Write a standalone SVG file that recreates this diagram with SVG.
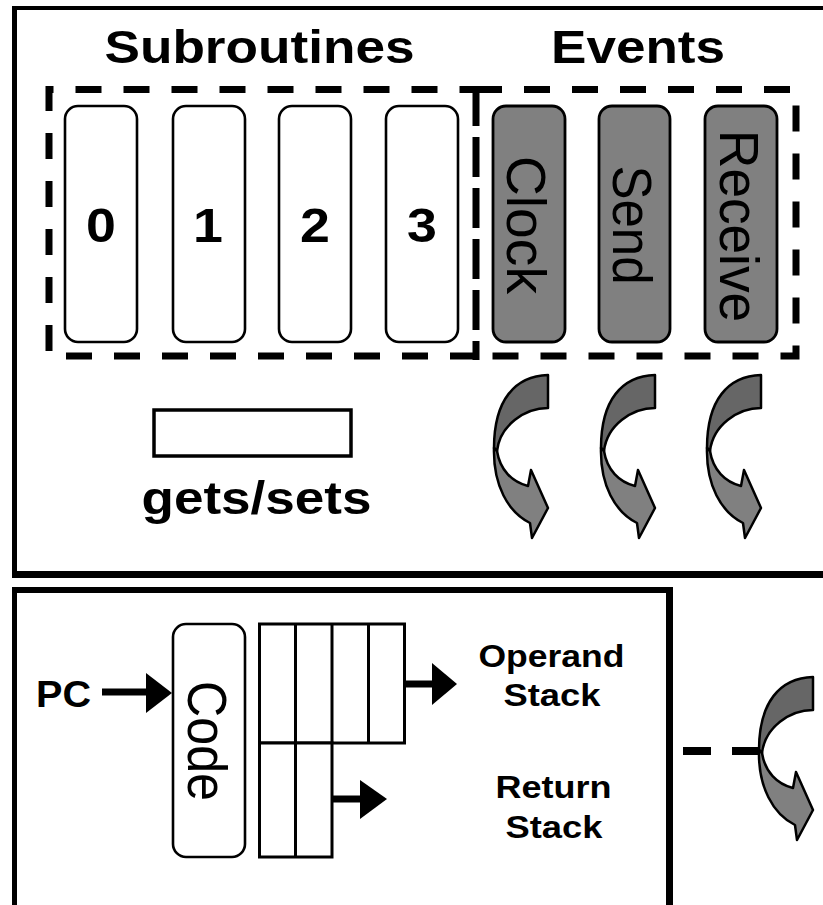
<svg xmlns="http://www.w3.org/2000/svg" width="823" height="905" viewBox="0 0 823 905">
  <style>
    .t { font-family: "Liberation Sans", Arial, sans-serif; fill: #000; }
    .b { font-weight: bold; }
    .slot { fill: #fff; stroke: #000; stroke-width: 2.6; }
    .evt { fill: #808080; stroke: #000; stroke-width: 2.8; }
    .dash { fill: none; stroke: #000; stroke-width: 7; stroke-dasharray: 26 22; }
    .frame { fill: none; stroke: #000; }
    .grid { fill: #fff; stroke: #000; stroke-width: 3; }
    .wire { stroke: #000; stroke-width: 7; fill: none; }
    .head { fill: #000; }
    .cback { fill: #666666; stroke: #000; stroke-width: 2.5; stroke-linejoin: round; }
    .cfront { fill: #808080; stroke: #000; stroke-width: 2.5; stroke-linejoin: round; }
  </style>
  <defs>
    <!-- twisted curved arrow: dark back half on top, light front half ending in a downward head -->
    <g id="curl">
      <path class="cback" d="M56,0 L56,33 C33,33 8,50 5,76 L2,73 C2,25 23,1 56,0 Z"/>
      <path class="cfront" d="M2,73 C1,110 16,137 38,148 L40,163 L56,133 L39,95 L36,111 C20,107 8,95 5,76 Z"/>
    </g>
  </defs>

  <rect width="823" height="905" fill="#fff"/>

  <!-- upper panel frame (open on the right) -->
  <g id="panel-top">
    <line class="frame" x1="12" y1="8" x2="823" y2="8" stroke-width="4"/>
    <line class="frame" x1="14.5" y1="6" x2="14.5" y2="578" stroke-width="5"/>
    <line class="frame" x1="12" y1="574.5" x2="823" y2="574.5" stroke-width="7"/>
  </g>

  <!-- lower panel frame (open at the bottom) -->
  <g id="panel-bottom">
    <line class="frame" x1="12" y1="590" x2="673" y2="590" stroke-width="6"/>
    <line class="frame" x1="14.5" y1="587" x2="14.5" y2="905" stroke-width="5"/>
    <line class="frame" x1="669.5" y1="587" x2="669.5" y2="905" stroke-width="7"/>
  </g>

  <g id="title-subroutines">
    <text class="t b" x="259.5" y="63" font-size="47" text-anchor="middle" textLength="310" lengthAdjust="spacingAndGlyphs">Subroutines</text>
  </g>
  <g id="title-events">
    <text class="t b" x="638" y="63" font-size="47" text-anchor="middle" textLength="174" lengthAdjust="spacingAndGlyphs">Events</text>
  </g>

  <!-- dashed groupings; the shared edge is drawn once with short gaps -->
  <g id="group-subroutines">
    <path class="dash" d="M476,356 H49 V89.5 H476"/>
  </g>
  <g id="group-events">
    <path class="dash" d="M476,89.5 H796 V356 H476"/>
    <line x1="476" y1="86" x2="476" y2="360" stroke="#000" stroke-width="7" stroke-dasharray="40 11"/>
  </g>

  <g id="sub-0">
    <rect class="slot" x="65" y="106" width="72" height="236" rx="13"/>
    <text class="t b" font-size="48" text-anchor="middle" transform="translate(101,242) scale(1.12,1)">0</text>
  </g>
  <g id="sub-1">
    <rect class="slot" x="173" y="106" width="72" height="236" rx="13"/>
    <text class="t b" font-size="48" text-anchor="middle" transform="translate(208,242) scale(1.12,1)">1</text>
  </g>
  <g id="sub-2">
    <rect class="slot" x="279" y="106" width="72" height="236" rx="13"/>
    <text class="t b" font-size="48" text-anchor="middle" transform="translate(315,242) scale(1.12,1)">2</text>
  </g>
  <g id="sub-3">
    <rect class="slot" x="386" y="106" width="72" height="236" rx="13"/>
    <text class="t b" font-size="48" text-anchor="middle" transform="translate(422,242) scale(1.12,1)">3</text>
  </g>

  <g id="evt-clock">
    <rect class="evt" x="493" y="106" width="72" height="236" rx="13"/>
    <text class="t" font-size="50" text-anchor="middle" textLength="138" lengthAdjust="spacingAndGlyphs" transform="translate(507,225) scale(1.1,1) rotate(90)">Clock</text>
  </g>
  <g id="evt-send">
    <rect class="evt" x="599" y="106" width="71" height="236" rx="13"/>
    <text class="t" font-size="50" text-anchor="middle" textLength="119" lengthAdjust="spacingAndGlyphs" transform="translate(613,225) scale(1.1,1) rotate(90)">Send</text>
  </g>
  <g id="evt-receive">
    <rect class="evt" x="705" y="106" width="72" height="236" rx="13"/>
    <text class="t" font-size="50" text-anchor="middle" textLength="192" lengthAdjust="spacingAndGlyphs" transform="translate(720,226) scale(1.1,1) rotate(90)">Receive</text>
  </g>

  <g id="gets-sets">
    <rect x="154" y="410" width="197" height="46" fill="#fff" stroke="#000" stroke-width="3.5"/>
    <text class="t b" x="256.5" y="514" font-size="47" text-anchor="middle" textLength="230" lengthAdjust="spacingAndGlyphs">gets/sets</text>
  </g>

  <g id="handler-clock"><use href="#curl" transform="translate(492,375)"/></g>
  <g id="handler-send"><use href="#curl" transform="translate(599,375)"/></g>
  <g id="handler-receive"><use href="#curl" transform="translate(705,375)"/></g>

  <g id="pc">
    <text class="t b" x="63.5" y="707" font-size="37" text-anchor="middle" textLength="55" lengthAdjust="spacingAndGlyphs">PC</text>
  </g>

  <g id="code">
    <rect class="slot" x="173" y="624" width="72" height="233" rx="13"/>
    <text class="t" font-size="50" text-anchor="middle" textLength="120" lengthAdjust="spacingAndGlyphs" transform="translate(188,741) scale(1.1,1) rotate(90)">Code</text>
  </g>

  <g id="operand-stack">
    <rect class="grid" x="259.5" y="624" width="145" height="119"/>
    <line class="grid" x1="295.5" y1="624" x2="295.5" y2="743"/>
    <line class="grid" x1="332" y1="624" x2="332" y2="743"/>
    <line class="grid" x1="368.5" y1="624" x2="368.5" y2="743"/>
  </g>
  <g id="return-stack">
    <rect class="grid" x="259.5" y="743" width="72.5" height="114"/>
    <line class="grid" x1="295.5" y1="743" x2="295.5" y2="857"/>
  </g>

  <g id="label-operand">
    <text class="t b" x="551.5" y="667" font-size="32" text-anchor="middle" textLength="146" lengthAdjust="spacingAndGlyphs">Operand</text>
    <text class="t b" x="552" y="706" font-size="32" text-anchor="middle" textLength="97" lengthAdjust="spacingAndGlyphs">Stack</text>
  </g>
  <g id="label-return">
    <text class="t b" x="553.5" y="798" font-size="32" text-anchor="middle" textLength="116" lengthAdjust="spacingAndGlyphs">Return</text>
    <text class="t b" x="554" y="838" font-size="32" text-anchor="middle" textLength="97" lengthAdjust="spacingAndGlyphs">Stack</text>
  </g>

  <g id="handler-active"><use href="#curl" transform="translate(757,677)"/></g>

  <g id="connectors">
    <!-- PC into code -->
    <line class="wire" x1="102" y1="692" x2="147" y2="692"/>
    <polygon class="head" points="146,673 172,693 146,713"/>
    <!-- operand stack out -->
    <line class="wire" x1="404" y1="684" x2="433" y2="684"/>
    <polygon class="head" points="432,663 457,684 432,705"/>
    <!-- return stack out -->
    <line class="wire" x1="332" y1="799" x2="361" y2="799"/>
    <polygon class="head" points="360,780 387,799 360,819"/>
    <!-- dashed link to the running handler -->
    <line x1="683" y1="751" x2="760" y2="751" stroke="#000" stroke-width="8" stroke-dasharray="28 21"/>
  </g>
</svg>
